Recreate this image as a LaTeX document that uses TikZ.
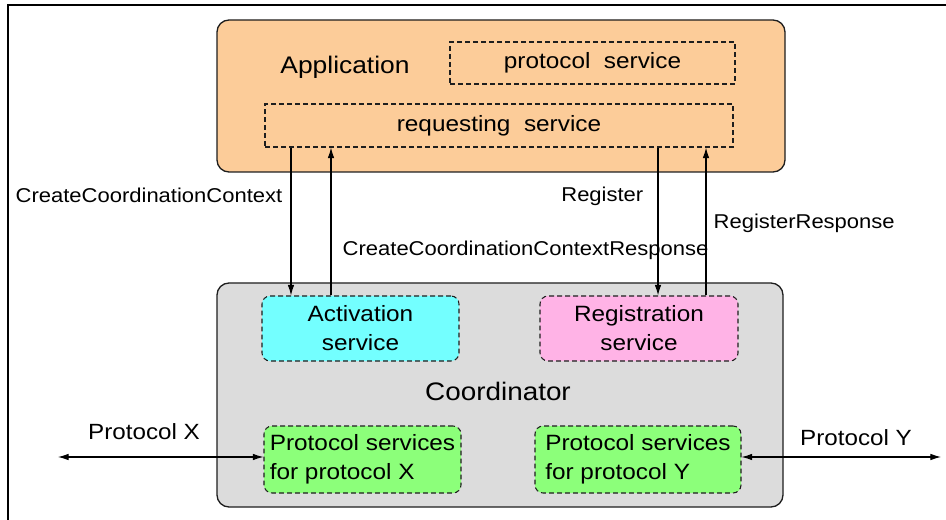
\documentclass[tikz,border=0pt]{standalone}
\usepackage{fontspec}
\setmainfont{Liberation Sans}[FakeStretch=1.1]
\usetikzlibrary{arrows.meta}

\definecolor{appfill}{RGB}{252,204,153}
\definecolor{coordfill}{RGB}{220,220,220}
\definecolor{actfill}{RGB}{115,255,255}
\definecolor{regfill}{RGB}{255,179,230}
\definecolor{psfill}{RGB}{140,255,122}
\definecolor{edge}{RGB}{30,30,30}

\tikzset{
    bigbox/.style={draw=edge, line width=1pt, rounded corners=9pt, inner sep=0pt},
    dashbox/.style={draw=edge, line width=0.8pt, dash pattern=on 3.6pt off 2.4pt, inner sep=0pt,
        font=\fontsize{16.6}{21.75}\selectfont},
    srvbox/.style={dashbox, rounded corners=6pt, align=center},
    title/.style={font=\fontsize{18}{22}\selectfont},
    msg/.style={font=\fontsize{15}{18}\selectfont},
    msgarrow/.style={draw=black, line width=0.85pt, -{Latex[length=8pt,width=5pt]}},
    protoarrow/.style={msgarrow, {Latex[length=8pt,width=5pt]}-{Latex[length=8pt,width=5pt]}},
}

\begin{document}
\begin{tikzpicture}[x=0.75pt, y=-0.75pt]
    \useasboundingbox (0,0) rectangle (946,520);

    % Rahmen (nur oben und links sichtbar)
    \draw[line width=1.4pt] (946,5) -- (8,5) -- (8,520);

    % Application
    \node[bigbox, fill=appfill, minimum width=426pt, minimum height=114pt] (app) at (501,96) {};
    \node[title] (apptitle) at (345,67) {Application};
    \node[dashbox, minimum width=213.75pt, minimum height=31.5pt] (protsrv) at (592.5,63) {protocol\ \ service};
    \node[dashbox, minimum width=351pt, minimum height=32.25pt] (reqsrv) at (499,125.5) {requesting\ \ service};

    % Coordinator
    \node[bigbox, fill=coordfill, minimum width=424.5pt, minimum height=168pt] (coord) at (500,395) {};
    \node[title, font=\fontsize{19}{22}\selectfont] (coordtitle) at (498,391) {Coordinator};
    \node[srvbox, fill=actfill, minimum width=147.75pt, minimum height=48.75pt] (actsrv) at (360.5,328.5) {Activation\\service};
    \node[srvbox, fill=regfill, minimum width=148.5pt, minimum height=48.75pt] (regsrv) at (639,328.5) {Registration\\service};
    \node[srvbox, fill=psfill, align=left, minimum width=147.75pt, minimum height=50.25pt] (psx) at (362.5,459.5) {Protocol services\\for protocol X};
    \node[srvbox, fill=psfill, align=left, minimum width=154.5pt, minimum height=50.25pt] (psy) at (638,459.5) {Protocol services\\for protocol Y};

    % Nachrichten zwischen requesting service und Coordinator
    \coordinate (ccc) at (291,0);
    \coordinate (cccr) at (331,0);
    \coordinate (reg) at (658,0);
    \coordinate (regr) at (706,0);
    \draw[msgarrow] (ccc |- reqsrv.south) -- (ccc |- actsrv.north);
    \draw[msgarrow] (cccr |- actsrv.north) -- (cccr |- reqsrv.south);
    \draw[msgarrow] (reg |- reqsrv.south) -- (reg |- regsrv.north);
    \draw[msgarrow] (regr |- regsrv.north) -- (regr |- reqsrv.south);

    \node[msg, anchor=east] (ccclabel) at (287,195) {CreateCoordinationContext};
    \node[msg, anchor=west] (cccrlabel) at (338,250) {CreateCoordinationContextResponse};
    \node[msg, anchor=east] (reglabel) at (648,196) {Register};
    \node[msg, anchor=west] (regrlabel) at (709,223) {RegisterResponse};

    % Protokolle nach aussen
    \coordinate (xend) at (58,457);
    \coordinate (yend) at (941,457);
    \draw[protoarrow] (xend) -- (xend -| psx.west);
    \draw[protoarrow] (yend -| psy.east) -- (yend);
    \node[msg, font=\fontsize{16.5}{20}\selectfont] (xlabel) at (144,432) {Protocol X};
    \node[msg, font=\fontsize{16.5}{20}\selectfont] (ylabel) at (856,438) {Protocol Y};
\end{tikzpicture}
\end{document}
